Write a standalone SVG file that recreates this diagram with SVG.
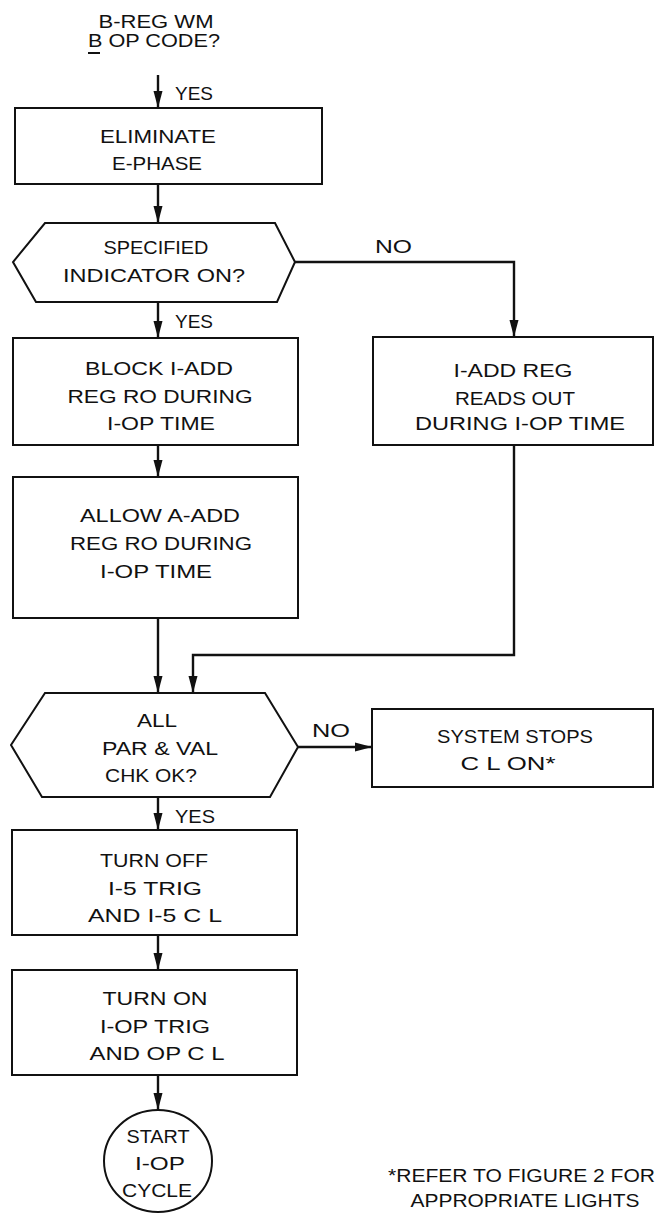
<svg xmlns="http://www.w3.org/2000/svg" width="655" height="1213" viewBox="0 0 655 1213">
<style>
.n{fill:#fff;stroke:#111;stroke-width:2}
.c{fill:none;stroke:#111;stroke-width:2.4}
text{font-family:"Liberation Sans","DejaVu Sans",sans-serif;font-size:18.5px;fill:#111;text-anchor:middle}
.l{text-anchor:start}
</style>
<defs>
<marker id="ah" markerUnits="userSpaceOnUse" markerWidth="18" markerHeight="10" refX="17" refY="5" orient="auto">
<path d="M0,0.5 L17,5 L0,9.5 z" fill="#111"/>
</marker>
</defs>
<rect width="655" height="1213" fill="#fff"/>
<g id="connectors">
<path class="c" d="M158,75 V108" marker-end="url(#ah)"/>
<path class="c" d="M158,184 V223" marker-end="url(#ah)"/>
<path class="c" d="M158,302 V338" marker-end="url(#ah)"/>
<path class="c" d="M295,262 H514 V337" marker-end="url(#ah)"/>
<path class="c" d="M158,445 V477" marker-end="url(#ah)"/>
<path class="c" d="M158,618 V693" marker-end="url(#ah)"/>
<path class="c" d="M514,445 V655 H193 V693" marker-end="url(#ah)"/>
<path class="c" d="M298,747 H372" marker-end="url(#ah)"/>
<path class="c" d="M158,797 V830" marker-end="url(#ah)"/>
<path class="c" d="M158,935 V970" marker-end="url(#ah)"/>
<path class="c" d="M158,1075 V1110" marker-end="url(#ah)"/>
<text x="175" y="100" class="l" textLength="38" lengthAdjust="spacingAndGlyphs">YES</text>
<text x="375" y="253" class="l" textLength="37" lengthAdjust="spacingAndGlyphs">NO</text>
<text x="175" y="328" class="l" textLength="38" lengthAdjust="spacingAndGlyphs">YES</text>
<text x="312" y="737" class="l" textLength="38" lengthAdjust="spacingAndGlyphs">NO</text>
<text x="175" y="823" class="l" textLength="40" lengthAdjust="spacingAndGlyphs">YES</text>
</g>
<g id="start">
<text x="156" y="28" textLength="115" lengthAdjust="spacingAndGlyphs">B-REG WM</text>
<text x="154" y="47" textLength="132" lengthAdjust="spacingAndGlyphs">B OP CODE?</text>
<line x1="88" y1="53" x2="100" y2="53" stroke="#111" stroke-width="2"/>
</g>
<g id="eliminate">
<rect class="n" x="15" y="108" width="307" height="76"/>
<text x="158" y="143" textLength="116" lengthAdjust="spacingAndGlyphs">ELIMINATE</text>
<text x="157" y="170" textLength="90" lengthAdjust="spacingAndGlyphs">E-PHASE</text>
</g>
<g id="specified">
<polygon class="n" points="45,223 275,223 295,262 277,302 36,302 13,262"/>
<text x="156" y="254" textLength="105" lengthAdjust="spacingAndGlyphs">SPECIFIED</text>
<text x="154" y="282" textLength="182" lengthAdjust="spacingAndGlyphs">INDICATOR ON?</text>
</g>
<g id="block">
<rect class="n" x="13" y="338" width="285" height="107"/>
<text x="159" y="375" textLength="148" lengthAdjust="spacingAndGlyphs">BLOCK I-ADD</text>
<text x="160" y="403" textLength="185" lengthAdjust="spacingAndGlyphs">REG RO DURING</text>
<text x="161" y="430" textLength="108" lengthAdjust="spacingAndGlyphs">I-OP TIME</text>
</g>
<g id="iadd">
<rect class="n" x="373" y="337" width="280" height="108"/>
<text x="513" y="377" textLength="119" lengthAdjust="spacingAndGlyphs">I-ADD REG</text>
<text x="515" y="405" textLength="120" lengthAdjust="spacingAndGlyphs">READS OUT</text>
<text x="520" y="430" textLength="210" lengthAdjust="spacingAndGlyphs">DURING I-OP TIME</text>
</g>
<g id="allow">
<rect class="n" x="13" y="477" width="285" height="141"/>
<text x="160" y="522" textLength="160" lengthAdjust="spacingAndGlyphs">ALLOW A-ADD</text>
<text x="161" y="550" textLength="182" lengthAdjust="spacingAndGlyphs">REG RO DURING</text>
<text x="156" y="578" textLength="112" lengthAdjust="spacingAndGlyphs">I-OP TIME</text>
</g>
<g id="check">
<polygon class="n" points="45,693 265,693 298,747 270,797 42,797 11,745"/>
<text x="157" y="727" textLength="40" lengthAdjust="spacingAndGlyphs">ALL</text>
<text x="160" y="755" textLength="116" lengthAdjust="spacingAndGlyphs">PAR &amp; VAL</text>
<text x="151" y="782" textLength="92" lengthAdjust="spacingAndGlyphs">CHK OK?</text>
</g>
<g id="stops">
<rect class="n" x="372" y="709" width="281" height="78"/>
<text x="515" y="743" textLength="156" lengthAdjust="spacingAndGlyphs">SYSTEM STOPS</text>
<text x="508" y="770" textLength="95" lengthAdjust="spacingAndGlyphs">C L ON*</text>
</g>
<g id="turnoff">
<rect class="n" x="12" y="830" width="285" height="105"/>
<text x="154" y="867" textLength="108" lengthAdjust="spacingAndGlyphs">TURN OFF</text>
<text x="155" y="895" textLength="94" lengthAdjust="spacingAndGlyphs">I-5 TRIG</text>
<text x="155" y="922" textLength="134" lengthAdjust="spacingAndGlyphs">AND I-5 C L</text>
</g>
<g id="turnon">
<rect class="n" x="12" y="970" width="285" height="105"/>
<text x="155" y="1005" textLength="105" lengthAdjust="spacingAndGlyphs">TURN ON</text>
<text x="155" y="1033" textLength="110" lengthAdjust="spacingAndGlyphs">I-OP TRIG</text>
<text x="157" y="1060" textLength="135" lengthAdjust="spacingAndGlyphs">AND OP C L</text>
</g>
<g id="startcycle">
<ellipse class="n" cx="158" cy="1161" rx="54" ry="51"/>
<text x="158" y="1143" textLength="63" lengthAdjust="spacingAndGlyphs">START</text>
<text x="160" y="1170" textLength="50" lengthAdjust="spacingAndGlyphs">I-OP</text>
<text x="157" y="1197" textLength="70" lengthAdjust="spacingAndGlyphs">CYCLE</text>
</g>
<g id="note">
<text x="388" y="1182" class="l" textLength="267" lengthAdjust="spacingAndGlyphs">*REFER TO FIGURE 2 FOR</text>
<text x="525" y="1207" textLength="229" lengthAdjust="spacingAndGlyphs">APPROPRIATE LIGHTS</text>
</g>
</svg>
